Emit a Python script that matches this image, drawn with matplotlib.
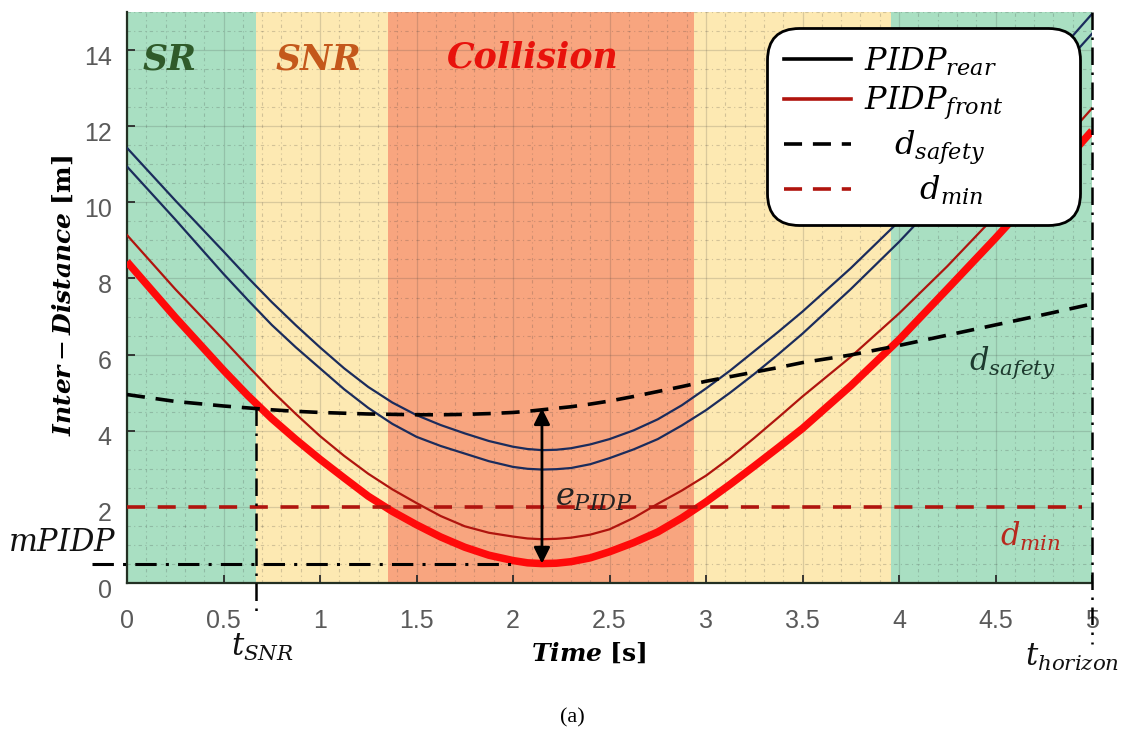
import numpy as np
import matplotlib
matplotlib.use("Agg")
import matplotlib.pyplot as plt
from matplotlib.lines import Line2D
from matplotlib.transforms import ScaledTranslation

# ---------------- data ----------------
time = [0, 0.25, 0.5, 0.625, 0.75, 0.875, 1.0, 1.125, 1.25, 1.375, 1.5, 1.625, 1.75, 1.875, 2.0,
        2.075, 2.15, 2.225, 2.3, 2.4, 2.5, 2.625, 2.75, 2.875, 3.0, 3.125, 3.25,
        3.375, 3.5, 3.75, 4.0, 4.25, 4.5, 4.75, 5.0]
rear_upper = [11.43, 10.05, 8.71, 8.03, 7.38, 6.77, 6.19, 5.64, 5.15, 4.74, 4.41, 4.15, 3.93,
              3.73, 3.58, 3.52, 3.49, 3.50, 3.54, 3.64, 3.78, 4.01, 4.30, 4.67, 5.11, 5.58,
              6.09, 6.60, 7.13, 8.27, 9.50, 10.79, 12.13, 13.51, 14.95]
rear_lower = [10.94, 9.55, 8.12, 7.44, 6.78, 6.19, 5.64, 5.09, 4.60, 4.18, 3.84, 3.60, 3.40,
              3.20, 3.05, 3.00, 2.98, 2.99, 3.02, 3.12, 3.28, 3.51, 3.78, 4.14, 4.54, 5.00,
              5.49, 6.01, 6.55, 7.72, 8.96, 10.30, 11.63, 13.02, 14.43]
front_thin = [9.14, 7.72, 6.39, 5.71, 5.05, 4.44, 3.86, 3.34, 2.87, 2.46, 2.10, 1.76, 1.49,
              1.32, 1.22, 1.17, 1.15, 1.16, 1.19, 1.27, 1.41, 1.71, 2.08, 2.43, 2.82, 3.29,
              3.81, 4.35, 4.90, 5.94, 7.08, 8.32, 9.65, 11.04, 12.47]
front_thick = [8.44, 6.98, 5.59, 4.93, 4.32, 3.77, 3.25, 2.76, 2.28, 1.88, 1.53, 1.21, 0.94,
               0.73, 0.59, 0.53, 0.51, 0.52, 0.56, 0.66, 0.82, 1.06, 1.34, 1.71, 2.13, 2.59,
               3.07, 3.56, 4.06, 5.18, 6.39, 7.72, 9.06, 10.45, 11.88]
d_safety = [4.95, 4.77, 4.65, 4.60, 4.55, 4.51, 4.48, 4.46, 4.44, 4.43, 4.42, 4.42, 4.43,
            4.45, 4.48, 4.51, 4.55, 4.59, 4.63, 4.70, 4.78, 4.90, 5.03, 5.16, 5.30, 5.42,
            5.54, 5.66, 5.79, 5.99, 6.24, 6.51, 6.78, 7.05, 7.33]
d_min = 2.0
d_min_end = 4.95

# zones: edges and kind of each zone
zone_edges = [0.0, 0.67, 1.35, 2.94, 3.96, 5.0]
zone_kinds = ["SR", "SNR", "Collision", "SNR", "SR"]

t_snr = 0.67
d_safety_at_tsnr = 4.59
t_horizon = 5.0
t_min = 2.15
mpidp = 0.51
e_top = 4.59
mpidp_line = [-0.18, 2.0]

xticks = [0, 0.5, 1, 1.5, 2, 2.5, 3, 3.5, 4, 4.5, 5]
xtick_labels = ["0", "0.5", "1", "1.5", "2", "2.5", "3", "3.5", "4", "4.5", "5"]
yticks = [0, 2, 4, 6, 8, 10, 12, 14]
ytick_labels = ["0", "2", "4", "6", "8", "10", "12", "14"]

# ---------------- style ----------------
plt.rcParams["mathtext.fontset"] = "dejavuserif"

zone_colors = {"SR": "#a9dfc2", "SNR": "#fde9b2", "Collision": "#f8a57f"}
navy = "#1b2c5c"
dark_red = "#b0140e"
bright_red = "#ff0a0a"

fig = plt.figure(figsize=(11.43, 7.40), dpi=100)
ax = fig.add_axes([127 / 1143, 1 - 583 / 740, 965 / 1143, 571 / 740])
ax.set_xlim(0, 5)
ax.set_ylim(0, 15)

for i, kind in enumerate(zone_kinds):
    ax.axvspan(zone_edges[i], zone_edges[i + 1], color=zone_colors[kind], lw=0, zorder=0)

ax.set_axisbelow("line")
ax.set_xticks(xticks)
ax.set_xticklabels(xtick_labels)
ax.set_yticks(yticks)
ax.set_yticklabels(ytick_labels)
ax.set_xticks(np.arange(0, 5.001, 0.1), minor=True)
ax.set_yticks(np.arange(0, 15.001, 0.5), minor=True)
ax.grid(which="major", color="#3a3a3a", alpha=0.18, lw=0.9, ls="-")
ax.grid(which="minor", color="#3a3a3a", alpha=0.22, lw=0.8, ls=(0, (3, 3, 1, 3)))
ax.tick_params(which="minor", length=0)
ax.tick_params(which="major", direction="in", length=6, width=1.3, color="#2a2a2a",
               labelsize=18, labelcolor="#5a5a5a")
ax.tick_params(axis="x", pad=19)
ax.tick_params(axis="y", pad=11)
for lab in ax.get_xticklabels() + ax.get_yticklabels():
    lab.set_family("Liberation Sans")
for lab in ax.get_yticklabels():
    lab.set_transform(lab.get_transform() + ScaledTranslation(0, -5 / 100, fig.dpi_scale_trans))

for side in ["top", "right"]:
    ax.spines[side].set_visible(False)
for side in ["left", "bottom"]:
    ax.spines[side].set_color("#233023")
    ax.spines[side].set_linewidth(1.6)

# curves
ax.plot(time, rear_upper, color=navy, lw=1.6, zorder=3)
ax.plot(time, rear_lower, color=navy, lw=1.6, zorder=3)
ax.plot(time, front_thin, color=dark_red, lw=1.6, zorder=3)
ax.plot(time, front_thick, color=bright_red, lw=5.4, zorder=3, solid_capstyle="butt",
        solid_joinstyle="round")
ax.plot(time, d_safety, color="black", lw=2.6, ls=(0, (5, 3)), zorder=4)
ax.hlines(d_min, 0, d_min_end, color=dark_red, lw=2.6, linestyles=[(0, (5, 3.5))], zorder=4)

# construction lines
dashdot = (0, (7, 3, 1, 3))
ax.plot([t_snr, t_snr], [d_safety_at_tsnr, -0.8], color="black", lw=1.8, ls=dashdot,
        clip_on=False, zorder=5)
ax.plot(mpidp_line, [mpidp, mpidp], color="black", lw=2.2, ls=dashdot, clip_on=False, zorder=5)
ax.plot([t_horizon, t_horizon], [15, -1.6], color="black", lw=1.8, ls=dashdot,
        clip_on=False, zorder=5)

ax.annotate("", xy=(t_min, mpidp), xytext=(t_min, e_top),
            arrowprops=dict(arrowstyle="<|-|>", color="black", lw=2, mutation_scale=24,
                            shrinkA=0, shrinkB=0), zorder=6)

# texts
zone_text_font = dict(family="DejaVu Serif", weight="bold", style="italic", fontsize=25)
ax.text(0.223, 13.74, "SR", color="#2f5a2a", ha="center", va="center", **zone_text_font)
ax.text(0.99, 13.74, "SNR", color="#c4581c", ha="center", va="center", **zone_text_font)
ax.text(2.10, 13.8, "Collision", color="#e8120c", ha="center", va="center", **zone_text_font)

ax.text(2.22, 2.25, r"$e_{PIDP}$", fontsize=23, ha="left", va="center", color="#222222", zorder=7)
ax.text(4.585, 5.78, r"$d_{safety}$", fontsize=22, ha="center", va="center", color="#1d3a2e")
ax.text(4.68, 1.22, r"$d_{min}$", fontsize=22, ha="center", va="center", color="#b8291e")
ax.text(-0.05, 1.06, r"$mPIDP$", fontsize=22, ha="right", va="center", color="#111111",
        clip_on=False)
ax.text(0.70, -1.70, r"$t_{SNR}$", fontsize=22, ha="center", va="center", color="#111111",
        clip_on=False)
ax.text(4.896, -1.96, r"$t_{horizon}$", fontsize=22, ha="center", va="center", color="#111111",
        clip_on=False)

ax.set_xlabel(r"$\mathbfit{Time}$ $\mathbf{[s]}$", fontsize=18, va="center")
ax.xaxis.set_label_coords(0.478, -0.124)
ax.set_ylabel(r"$\mathbfit{Inter} - \mathbfit{Distance}$ $\mathbf{[m]}$", fontsize=18, va="center")
ax.yaxis.set_label_coords(-0.066, 0.504)

# legend
handles = [
    Line2D([], [], color="black", lw=2.6),
    Line2D([], [], color=dark_red, lw=2.6),
    Line2D([], [], color="black", lw=2.6, ls=(0, (5, 3))),
    Line2D([], [], color=dark_red, lw=2.6, ls=(0, (5, 3))),
]
labels = [r"$PIDP_{rear}$", r"$PIDP_{front}$", r"$\quad d_{safety}$", r"$\quad\;\;\;d_{min}$"]
leg = ax.legend(handles, labels, loc="upper left",
                bbox_to_anchor=(0.663, 0.622, 0.325, 0.35), mode="expand",
                borderaxespad=0, fontsize=23, handlelength=2.1, handletextpad=0.4,
                borderpad=0.55, labelspacing=0.22, fancybox=True, framealpha=1,
                edgecolor="black")
frame = leg.get_frame()
frame.set_linewidth(2)
frame.set_boxstyle("round", pad=0, rounding_size=1.0)
leg.set_zorder(10)

fig.text(572 / 1143, 1 - 718 / 740, "(a)", family="Liberation Serif", fontsize=16,
         ha="center", va="center")

fig.savefig("out.png", dpi=100)
